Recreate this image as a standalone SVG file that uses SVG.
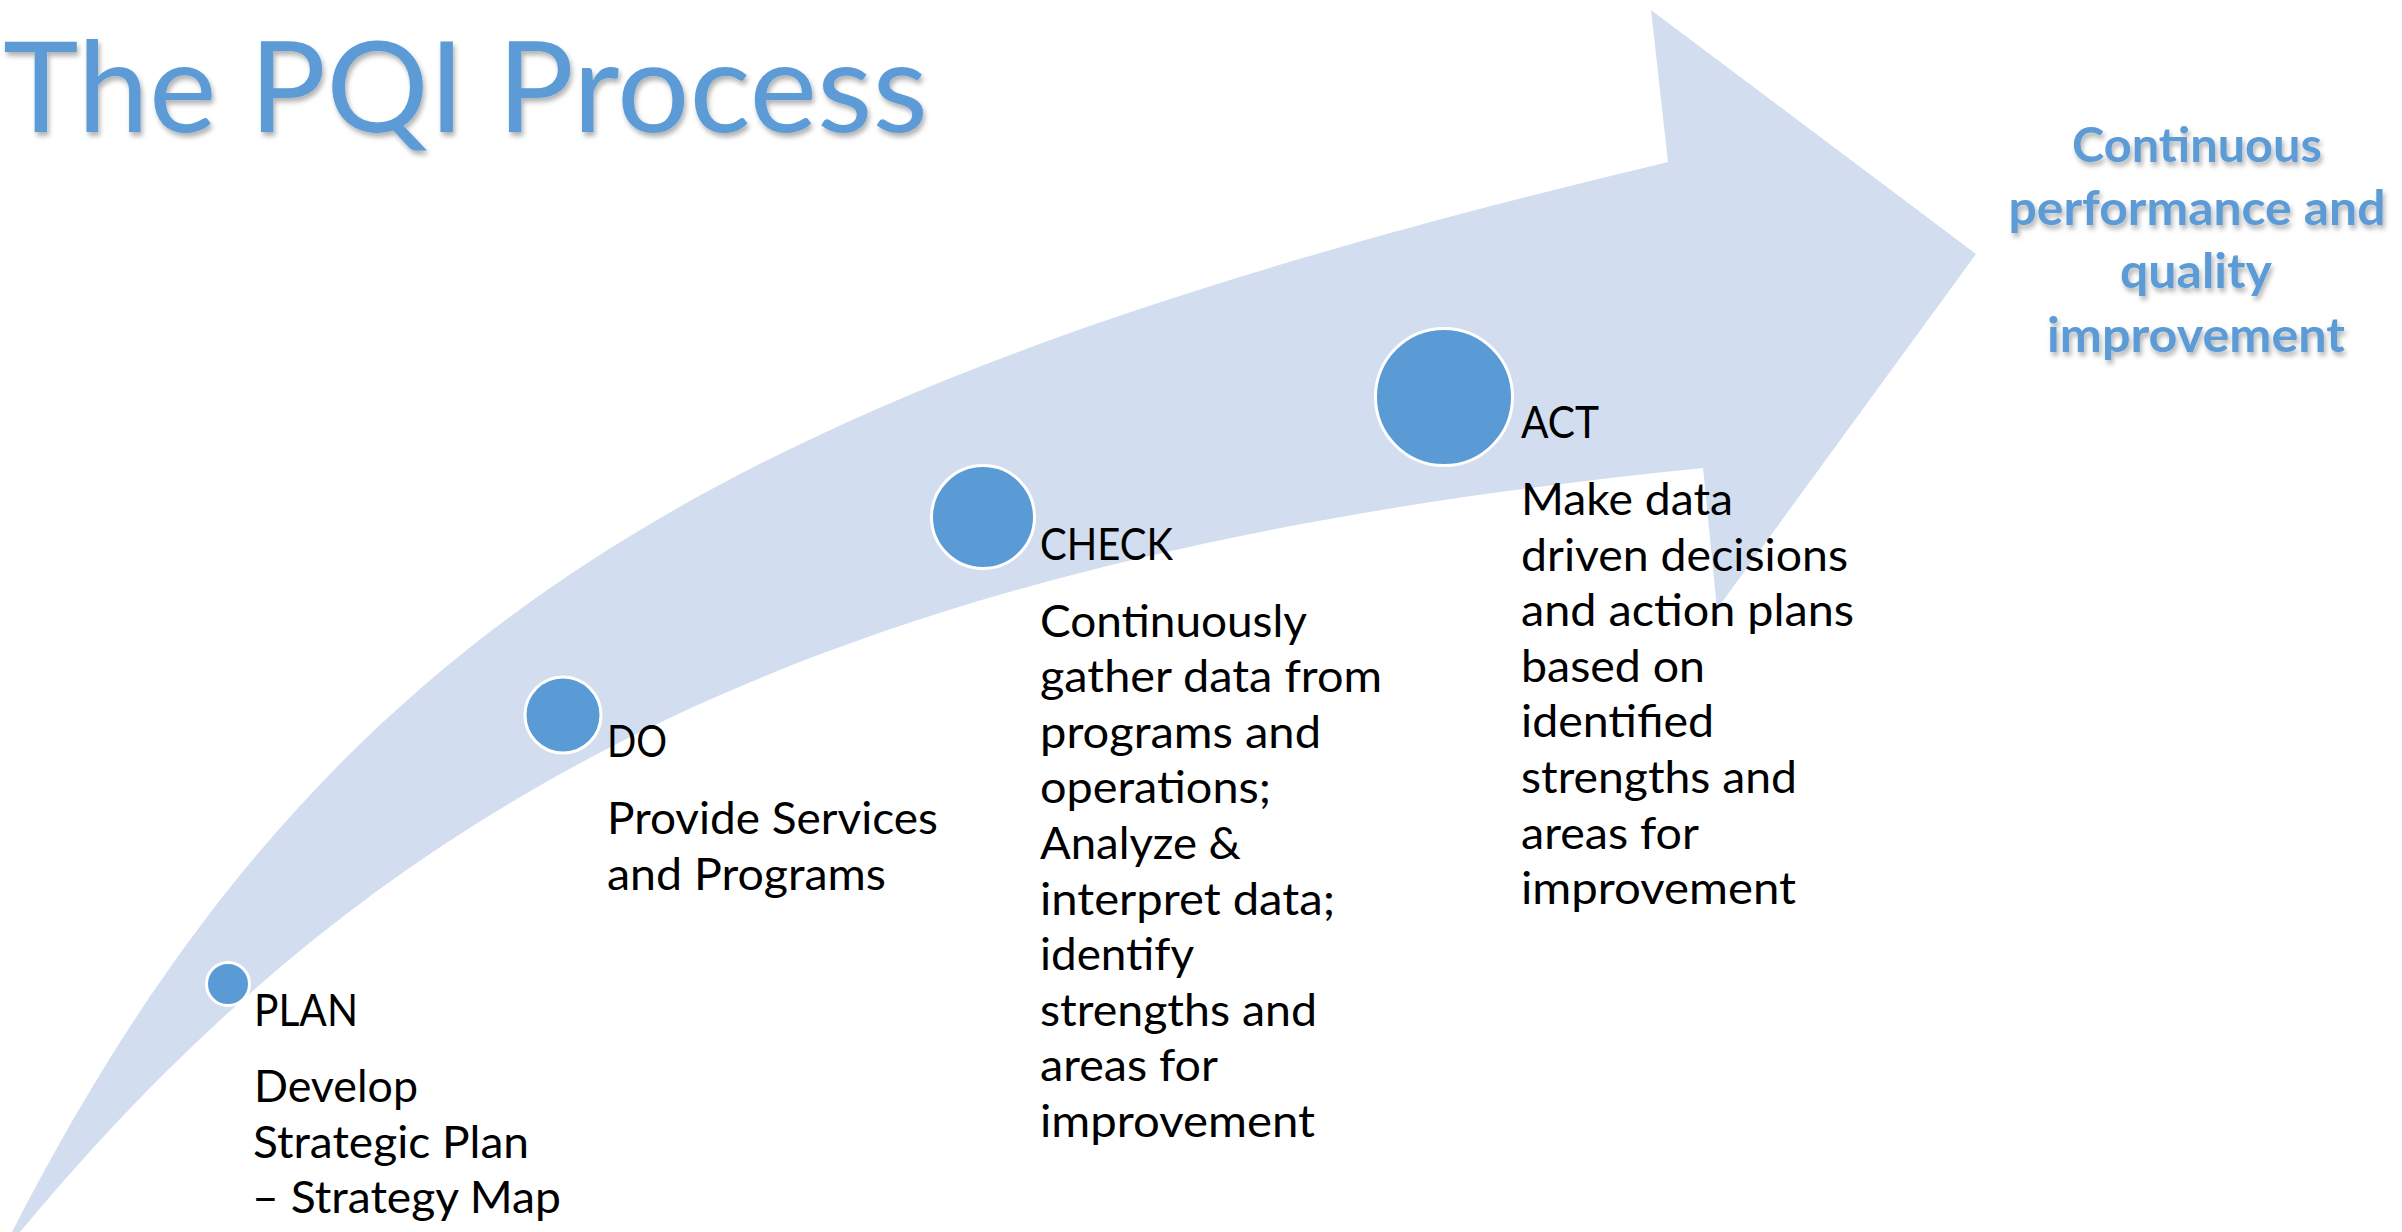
<svg xmlns="http://www.w3.org/2000/svg" width="2402" height="1232" viewBox="0 0 2402 1232">
  <defs>
    <filter id="softShadow" x="-5%" y="-20%" width="110%" height="150%">
      <feDropShadow dx="2" dy="4" stdDeviation="2.5" flood-color="#000" flood-opacity="0.3"/>
    </filter>
    <style>
      .bg { fill: #ffffff; }
      .band { fill: #d2deef; }
      .dot { fill: #5b9bd5; stroke: #ffffff; stroke-width: 3; }
      .title { font-family: Lato, "Open Sans", "Liberation Sans", sans-serif; font-size: 127px; fill: #5b9bd5; }
      .goal { font-family: Lato, "Open Sans", "Liberation Sans", sans-serif; font-weight: 700; font-size: 47px; fill: #5b9bd5; text-anchor: middle; }
      .step { font-family: Lato, "Open Sans", "Liberation Sans", sans-serif; font-size: 45px; fill: #000000; }
    </style>
  </defs>

  <rect class="bg" x="0" y="0" width="2402" height="1232"/>

  <!-- Curved upward arrow carrying the four stages -->
  <g id="connectors">
    <path id="flow-arrow" class="band" d="
      M 12 1232
      C 331 609 745 383 1668 162
      L 1651 10
      L 1976 254
      L 1717 609
      L 1703 468
      C 832 555 388 789 20 1232
      L 14 1240 Z"/>
  </g>

  <!-- Heading -->
  <text id="title" class="title" x="3" y="132" textLength="925" lengthAdjust="spacingAndGlyphs" filter="url(#softShadow)">The PQI Process</text>

  <!-- Outcome at the arrow head -->
  <g id="outcome" filter="url(#softShadow)">
    <text class="goal" x="2197" y="162" textLength="250" lengthAdjust="spacingAndGlyphs">Continuous</text>
    <text class="goal" x="2197" y="225" textLength="377" lengthAdjust="spacingAndGlyphs">performance and</text>
    <text class="goal" x="2196" y="288" textLength="152" lengthAdjust="spacingAndGlyphs">quality</text>
    <text class="goal" x="2196" y="352" textLength="298" lengthAdjust="spacingAndGlyphs">improvement</text>
  </g>

  <!-- PLAN -->
  <g id="node-plan">
    <circle class="dot" cx="228" cy="984" r="21.5"/>
    <text class="step" x="254" y="1026" textLength="104" lengthAdjust="spacingAndGlyphs">PLAN</text>
    <text class="step" x="254" y="1102" textLength="164" lengthAdjust="spacingAndGlyphs">Develop</text>
    <text class="step" x="253" y="1157.5" textLength="276" lengthAdjust="spacingAndGlyphs">Strategic Plan</text>
    <text class="step" x="252" y="1213" textLength="309" lengthAdjust="spacingAndGlyphs">– Strategy Map</text>
  </g>

  <!-- DO -->
  <g id="node-do">
    <circle class="dot" cx="563" cy="715" r="38"/>
    <text class="step" x="607" y="757" textLength="60" lengthAdjust="spacingAndGlyphs">DO</text>
    <text class="step" x="607" y="834" textLength="331" lengthAdjust="spacingAndGlyphs">Provide Services</text>
    <text class="step" x="607" y="890" textLength="279" lengthAdjust="spacingAndGlyphs">and Programs</text>
  </g>

  <!-- CHECK -->
  <g id="node-check">
    <circle class="dot" cx="983" cy="517" r="51.5"/>
    <text class="step" x="1040" y="560" textLength="133" lengthAdjust="spacingAndGlyphs">CHECK</text>
    <text class="step" x="1040" y="636.6" textLength="267" lengthAdjust="spacingAndGlyphs">Continuously</text>
    <text class="step" x="1040" y="692.2" textLength="342" lengthAdjust="spacingAndGlyphs">gather data from</text>
    <text class="step" x="1040" y="747.8" textLength="281" lengthAdjust="spacingAndGlyphs">programs and</text>
    <text class="step" x="1040" y="803.4" textLength="231" lengthAdjust="spacingAndGlyphs">operations;</text>
    <text class="step" x="1040" y="859" textLength="201" lengthAdjust="spacingAndGlyphs">Analyze &amp;</text>
    <text class="step" x="1040" y="914.6" textLength="295" lengthAdjust="spacingAndGlyphs">interpret data;</text>
    <text class="step" x="1040" y="970.2" textLength="154" lengthAdjust="spacingAndGlyphs">identify</text>
    <text class="step" x="1040" y="1025.8" textLength="277" lengthAdjust="spacingAndGlyphs">strengths and</text>
    <text class="step" x="1040" y="1081.4" textLength="178" lengthAdjust="spacingAndGlyphs">areas for</text>
    <text class="step" x="1040" y="1137" textLength="275" lengthAdjust="spacingAndGlyphs">improvement</text>
  </g>

  <!-- ACT -->
  <g id="node-act">
    <circle class="dot" cx="1444" cy="397" r="68.5"/>
    <text class="step" x="1521" y="438" textLength="78" lengthAdjust="spacingAndGlyphs">ACT</text>
    <text class="step" x="1521" y="515" textLength="212" lengthAdjust="spacingAndGlyphs">Make data</text>
    <text class="step" x="1521" y="570.6" textLength="327" lengthAdjust="spacingAndGlyphs">driven decisions</text>
    <text class="step" x="1521" y="626.2" textLength="333" lengthAdjust="spacingAndGlyphs">and action plans</text>
    <text class="step" x="1521" y="681.8" textLength="184" lengthAdjust="spacingAndGlyphs">based on</text>
    <text class="step" x="1521" y="737.4" textLength="193" lengthAdjust="spacingAndGlyphs">identified</text>
    <text class="step" x="1521" y="793" textLength="276" lengthAdjust="spacingAndGlyphs">strengths and</text>
    <text class="step" x="1521" y="848.6" textLength="178" lengthAdjust="spacingAndGlyphs">areas for</text>
    <text class="step" x="1521" y="904.2" textLength="275" lengthAdjust="spacingAndGlyphs">improvement</text>
  </g>
</svg>
